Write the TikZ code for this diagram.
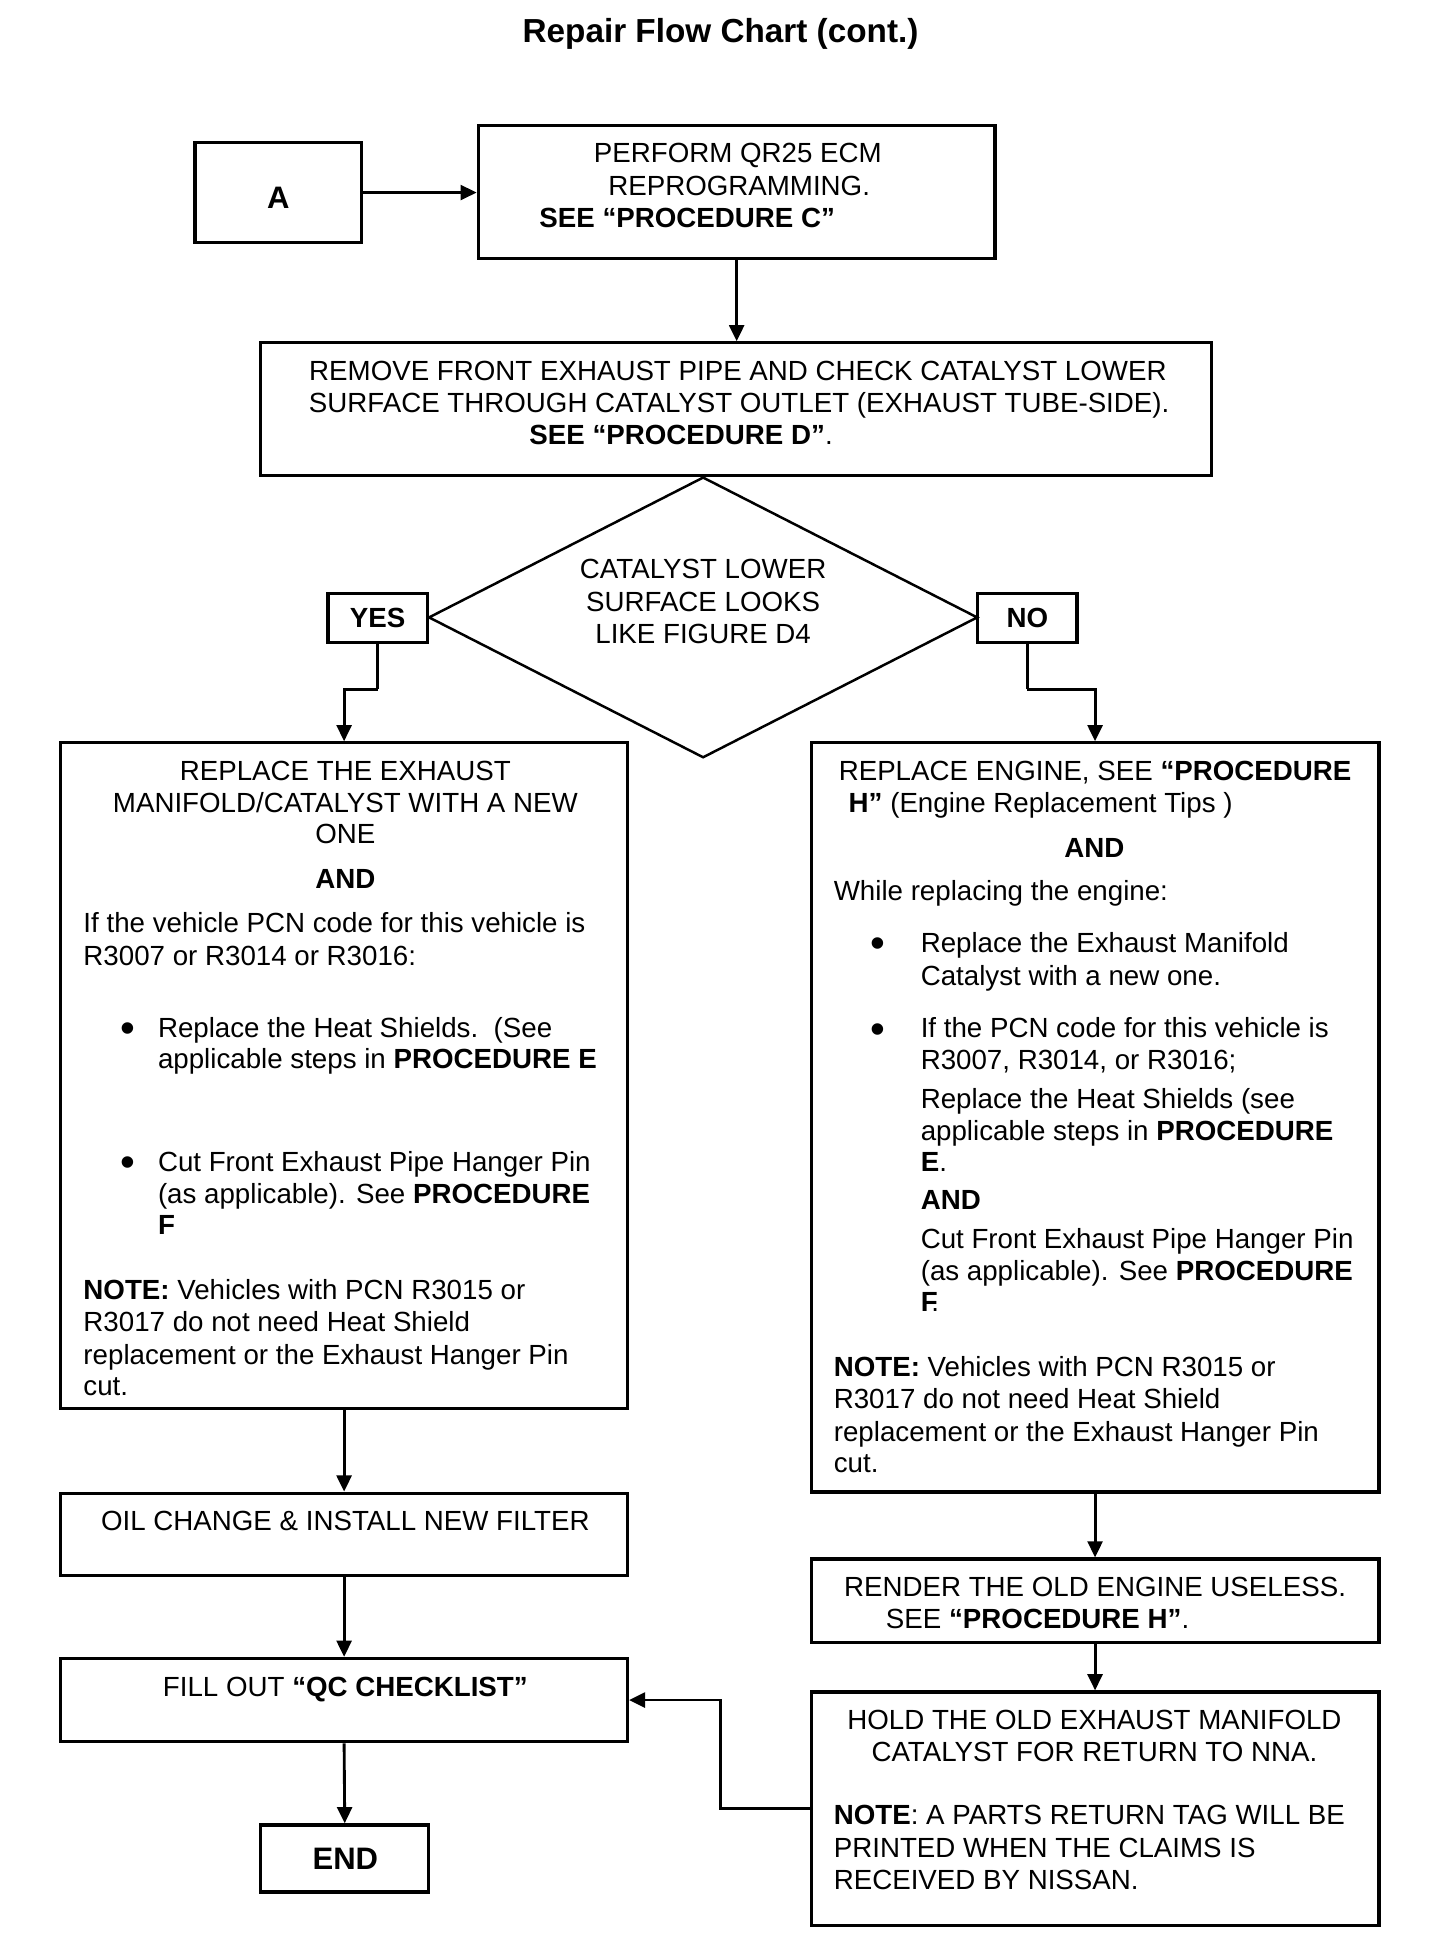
\documentclass[tikz,border=0pt]{standalone}
\usepackage{fontspec}
\setmainfont{Liberation Sans}
\usetikzlibrary{shapes.geometric,arrows.meta}
\newcommand\bodyfont{\fontsize{22.3}{26}\selectfont}
\newcommand\bigbold{\bfseries\fontsize{25}{28}\selectfont}
\begin{document}
\begin{tikzpicture}[x=1pt,y=-1pt,
  box/.style={draw,line width=2.6pt,rectangle,inner sep=0pt},
  conn/.style={line width=2.3pt,-{Triangle[length=13pt,width=12pt]}},
  plainline/.style={line width=2.3pt},
  tl/.style={inner sep=0pt,anchor=base west,font=\bodyfont},
  tc/.style={inner sep=0pt,anchor=base,font=\bodyfont},
  bul/.style={inner sep=0pt,anchor=center,font=\fontsize{34}{34}\selectfont},
]
\useasboundingbox (0,0) rectangle (1159.2,1568.1);

% title
\node[inner sep=0pt,anchor=base,font=\bfseries\fontsize{26.8}{30}\selectfont] (title) at (580,34) {Repair Flow Chart (cont.)};

% boxes
\node[box,minimum width=134pt,minimum height=80pt] (A) at (224,155) {};
\node[box,minimum width=416pt,minimum height=107pt] (perf) at (593,154.5) {};
\node[box,minimum width=765pt,minimum height=107pt] (rem) at (592.5,329.5) {};
\node[diamond,draw,line width=2pt,inner sep=0pt,minimum width=442pt,minimum height=226pt] (dia) at (566,497) {};
\node[box,minimum width=80pt,minimum height=39pt] (yes) at (304,497.5) {};
\node[box,minimum width=80pt,minimum height=39pt] (no) at (827,497.5) {};
\node[box,minimum width=456pt,minimum height=536pt] (lbox) at (277,866) {};
\node[box,minimum width=457pt,minimum height=603pt] (rbox) at (881.5,899.5) {};
\node[box,minimum width=456pt,minimum height=66pt] (oil) at (277,1235) {};
\node[box,minimum width=456pt,minimum height=67pt] (fill) at (277,1368.5) {};
\node[box,minimum width=135pt,minimum height=54pt] (endb) at (277.5,1496) {};
\node[box,minimum width=457pt,minimum height=67pt] (rend) at (881.5,1288.5) {};
\node[box,minimum width=457pt,minimum height=188pt] (hold) at (881.5,1456) {};

% texts
\node[inner sep=0pt,anchor=base,font=\bigbold] (tA) at (224,168) {A};

\node[tc] (p1) at (594,131) {PERFORM QR25 ECM};
\node[tc] (p2) at (595,157) {REPROGRAMMING.};
\node[tl] (p3) at (434,183) {\textbf{SEE “PROCEDURE C”}};

\node[tc] (r1) at (594,306) {REMOVE FRONT EXHAUST PIPE AND CHECK CATALYST LOWER};
\node[tc] (r2) at (595,332) {SURFACE THROUGH CATALYST OUTLET (EXHAUST TUBE-SIDE).};
\node[tl] (r3) at (426,358) {\textbf{SEE “PROCEDURE D”}.};

\node[tc] (d1) at (566,466) {CATALYST LOWER};
\node[tc] (d2) at (566,492) {SURFACE LOOKS};
\node[tc] (d3) at (566,518) {LIKE FIGURE D4};

\node[tc] (tyes) at (304,505) {\textbf{YES}};
\node[tc] (tno) at (827,505) {\textbf{NO}};

% left box
\node[tc] (l1) at (278,628) {REPLACE THE EXHAUST};
\node[tc] (l2) at (278,654) {MANIFOLD/CATALYST WITH A NEW};
\node[tc] (l3) at (278,679) {ONE};
\node[tc] (l4) at (278,715) {\textbf{AND}};
\node[tl] (l5) at (67,751) {If the vehicle PCN code for this vehicle is};
\node[tl] (l6) at (67,777) {R3007 or R3014 or R3016:};
\node[bul] (lb1) at (103,831) {•};
\node[tl] (l7) at (127,835) {Replace the Heat Shields.\ \ (See};
\node[tl] (l8) at (127,860) {applicable steps in \textbf{PROCEDURE E}};
\node[bul] (lb2) at (103,939) {•};
\node[tl] (l9) at (127,943) {Cut Front Exhaust Pipe Hanger Pin};
\node[tl] (l10) at (127,969) {(as applicable). See \textbf{PROCEDURE}};
\node[tl] (l11) at (127,994) {\textbf{F}};
\node[tl] (l12) at (67,1046) {\textbf{NOTE:} Vehicles with PCN R3015 or};
\node[tl] (l13) at (67,1072) {R3017 do not need Heat Shield};
\node[tl] (l14) at (67,1098) {replacement or the Exhaust Hanger Pin};
\node[tl] (l15) at (67,1123) {cut.};

% right box
\node[tl] (q1) at (675,628) {REPLACE ENGINE, SEE \textbf{“PROCEDURE}};
\node[tl] (q2) at (683,654) {\textbf{H”} (Engine Replacement Tips )};
\node[tc] (q3) at (881,690) {\textbf{AND}};
\node[tl] (q4) at (671,725) {While replacing the engine:};
\node[bul] (qb1) at (707,763) {•};
\node[tl] (q5) at (741,767) {Replace the Exhaust Manifold};
\node[tl] (q6) at (741,793) {Catalyst with a new one.};
\node[bul] (qb2) at (707,832) {•};
\node[tl] (q7) at (741,835) {If the PCN code for this vehicle is};
\node[tl] (q8) at (741,861) {R3007, R3014, or R3016;};
\node[tl] (q9) at (741,892) {Replace the Heat Shields (see};
\node[tl] (q10) at (741,918) {applicable steps in \textbf{PROCEDURE}};
\node[tl] (q11) at (741,943) {\textbf{E}.};
\node[tl] (q12) at (741,974) {\textbf{AND}};
\node[tl] (q13) at (741,1005) {Cut Front Exhaust Pipe Hanger Pin};
\node[tl] (q14) at (741,1031) {(as applicable). See \textbf{PROCEDURE}};
\node[tl] (q15) at (741,1056) {\textbf{F}\kern-5pt.};
\node[tl] (q16) at (671,1108) {\textbf{NOTE:} Vehicles with PCN R3015 or};
\node[tl] (q17) at (671,1134) {R3017 do not need Heat Shield};
\node[tl] (q18) at (671,1160) {replacement or the Exhaust Hanger Pin};
\node[tl] (q19) at (671,1185) {cut.};

\node[tc] (o1) at (278,1232) {OIL CHANGE \& INSTALL NEW FILTER};
\node[tc] (f1) at (278,1366) {FILL OUT \textbf{“QC CHECKLIST”}};
\node[inner sep=0pt,anchor=base,font=\bigbold] (e1) at (278,1505) {END};

\node[tc] (n1) at (881.5,1285) {RENDER THE OLD ENGINE USELESS.};
\node[tl] (n2) at (713,1311) {SEE \textbf{“PROCEDURE H”}.};

\node[tc] (h1) at (881,1392) {HOLD THE OLD EXHAUST MANIFOLD};
\node[tc] (h2) at (881,1418) {CATALYST FOR RETURN TO NNA.};
\node[tl] (h3) at (671,1469) {\textbf{NOTE}: A PARTS RETURN TAG WILL BE};
\node[tl] (h4) at (671,1495) {PRINTED WHEN THE CLAIMS IS};
\node[tl] (h5) at (671,1521) {RECEIVED BY NISSAN.};

% connectors
\coordinate (ym) at (304,555);
\coordinate (nm) at (827,555);
\coordinate (jn) at (580,1400);

\draw[conn] (A.east) -- (perf.west |- A.east);
\draw[conn] (perf.south) -- (perf.south |- rem.north);
\draw[plainline] (yes.south) -- (ym);
\draw[conn] (ym) -| (lbox.north);
\draw[plainline] (no.south) -- (nm);
\draw[conn] (nm) -| (rbox.north);
\draw[conn] (lbox.south) -- (oil.north);
\draw[conn] (oil.south) -- (fill.north);
\draw[conn] (fill.south) -- (endb.north);
\draw[conn] (rbox.south) -- (rend.north);
\draw[conn] (rend.south) -- (hold.north);
\draw[conn] (hold.west) -| (jn) |- (fill.east);
\end{tikzpicture}
\end{document}
